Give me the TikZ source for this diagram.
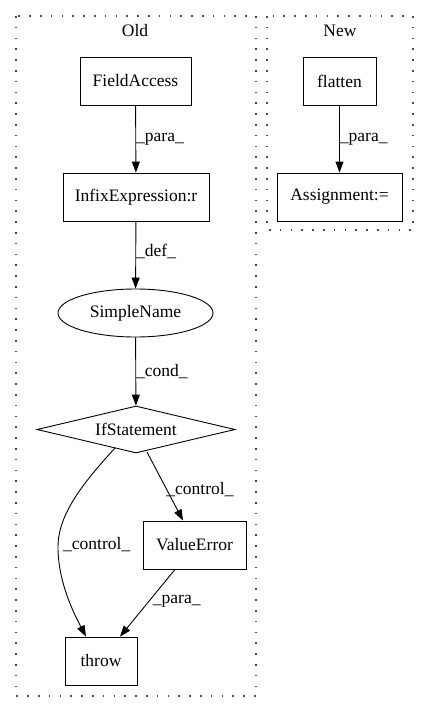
\documentclass[tikz,border=0pt]{standalone}
\usepackage{fontspec}
\setmainfont{Liberation Serif}
\usetikzlibrary{shapes.geometric,arrows.meta}
\begin{document}
\begin{tikzpicture}[x=1pt,y=-1pt,
  every node/.style={font=\fontsize{17.5}{20}\selectfont},
  cluster/.style={draw=black!70, line width=1.6pt, dash pattern=on 1.6pt off 9.2pt},
  box/.style={draw, line width=0.9pt, rectangle, inner sep=0pt},
  oval/.style={draw, line width=0.9pt, ellipse, inner sep=0pt},
  dia/.style={draw, line width=0.9pt, diamond, inner sep=0pt},
  edge/.style={draw, line width=0.9pt, -{Triangle[length=11pt,width=8pt]}},
  elabel/.style={inner sep=0pt, anchor=west}
]
\useasboundingbox (0,0) rectangle (429,712);
\draw[cluster] (16,16) rectangle (256,696);
\draw[cluster] (267,16) rectangle (413,230);
\node (oldlbl) at (135,31) {Old};
\node (newlbl) at (340,31) {New};

\node[box, minimum width=111pt, minimum height=48pt] (fa) at (135.5,81) {FieldAccess};
\node[box, minimum width=146pt, minimum height=48pt] (ie) at (136,197) {InfixExpression:r};
\node[box, minimum width=73pt, minimum height=48pt] (fl) at (339.5,81) {flatten};
\node[box, minimum width=125pt, minimum height=48pt] (as) at (339.5,197) {Assignment:=};
\node[oval, minimum width=155pt, minimum height=48pt] (sn) at (135.5,313) {SimpleName};
\node[dia, minimum width=198pt, minimum height=47pt, aspect=4.2] (if) at (136,429.5) {IfStatement};
\node[box, minimum width=103pt, minimum height=48pt] (ve) at (194.5,545) {ValueError};
\node[box, minimum width=72pt, minimum height=48pt] (th) at (101,661) {throw};

\draw[edge] (fa) -- (ie) node[elabel, pos=0.5] {\_para\_};
\draw[edge] (fl) -- (as) node[elabel, pos=0.5] {\_para\_};
\draw[edge] (ie) -- (sn) node[elabel, pos=0.45] {\_def\_};
\draw[edge] (sn) -- (if) node[elabel, pos=0.5] {\_cond\_};
\draw[edge] (147,452) -- (ve.north -| 183,0) node[elabel, pos=0.5, xshift=1pt, yshift=-3pt] {\_control\_};
\coordinate (c1) at (115,448);
\coordinate (c2) at (58,547);
\draw[edge] (c1) .. controls (82,484) and (58,515) .. (c2) .. controls (58,580) and (72,610) .. (th.north -| 86,0);
\node[elabel] (lc) at (63,545) {\_control\_};
\draw[edge] (ve.south -| 175,0) -- (th.north -| 120,0) node[elabel, pos=0.5, xshift=5pt, yshift=2pt] {\_para\_};
\end{tikzpicture}
\end{document}
